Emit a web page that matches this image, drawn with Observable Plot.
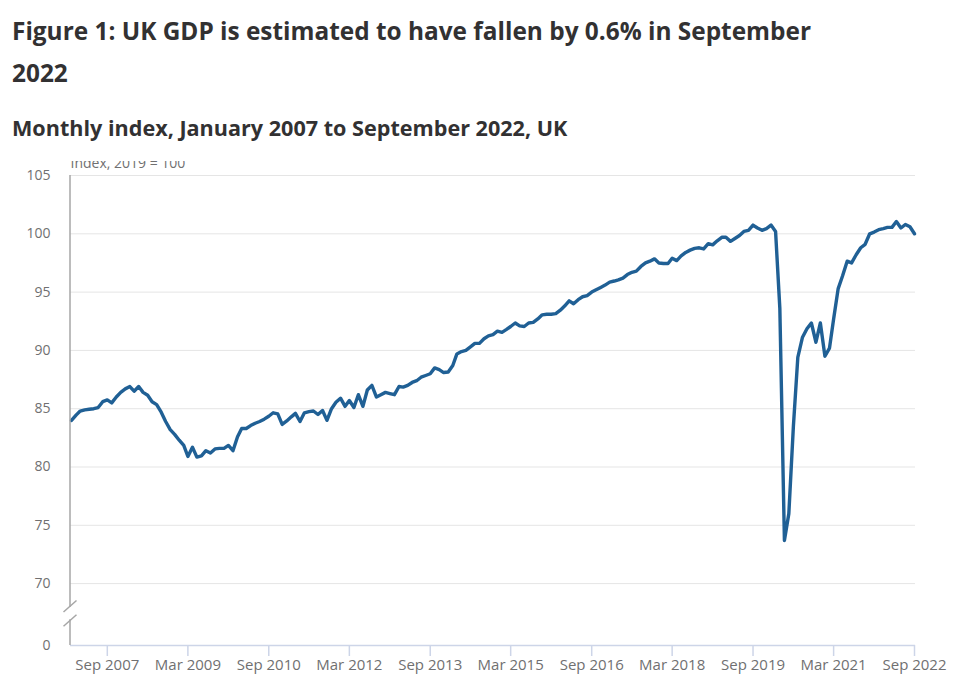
<!DOCTYPE html>
<html>
<head>
<meta charset="utf-8">
<script src="https://cdn.jsdelivr.net/npm/d3@7"></script>
<script src="https://cdn.jsdelivr.net/npm/@observablehq/plot@0.6"></script>
<style>
  html, body { margin: 0; padding: 0; background: #fff; }
  body { width: 960px; height: 691px; position: relative; overflow: hidden; font-family: "Open Sans", sans-serif; color: #323132; }
  #title { position: absolute; left: 12px; top: 10px; width: 840px; margin: 0; font-size: 24.4px; font-weight: 700; line-height: 42px; }
  #subtitle { position: absolute; left: 12px; top: 114px; margin: 0; font-size: 21.6px; font-weight: 700; line-height: 28px; }
  #chart { position: absolute; left: 0; top: 161px; width: 960px; height: 530px; overflow: hidden; }
</style>
</head>
<body>
<h1 id="title">Figure 1: UK GDP is estimated to have fallen by 0.6% in September 2022</h1>
<h2 id="subtitle">Monthly index, January 2007 to September 2022, UK</h2>
<div id="chart"></div>
<script>
// Monthly GDP index (2019 = 100), January 2007 to September 2022
const gdp2007 = [84.0, 84.45, 84.8, 84.9, 84.95, 85.0, 85.1, 85.6, 85.75, 85.5, 86.0, 86.4];
const gdp2008 = [86.7, 86.9, 86.5, 86.9, 86.4, 86.15, 85.6, 85.35, 84.7, 83.9, 83.2, 82.8];
const gdp2009 = [82.3, 81.85, 80.9, 81.7, 80.85, 80.95, 81.4, 81.2, 81.55, 81.6, 81.6, 81.85];
const gdp2010 = [81.4, 82.6, 83.3, 83.3, 83.55, 83.75, 83.9, 84.1, 84.35, 84.65, 84.55, 83.65];
const gdp2011 = [83.95, 84.3, 84.6, 83.9, 84.65, 84.75, 84.8, 84.5, 84.85, 84.0, 85.0, 85.55];
const gdp2012 = [85.9, 85.2, 85.7, 85.1, 86.2, 85.2, 86.6, 87.0, 86.0, 86.2, 86.4, 86.3];
const gdp2013 = [86.2, 86.9, 86.85, 87.0, 87.25, 87.4, 87.7, 87.85, 88.0, 88.5, 88.35, 88.1];
const gdp2014 = [88.15, 88.7, 89.7, 89.9, 90.0, 90.3, 90.6, 90.6, 91.0, 91.25, 91.35, 91.65];
const gdp2015 = [91.55, 91.8, 92.05, 92.35, 92.1, 92.05, 92.35, 92.4, 92.7, 93.05, 93.1, 93.1];
const gdp2016 = [93.15, 93.45, 93.8, 94.25, 94.0, 94.35, 94.6, 94.7, 95.0, 95.2, 95.4, 95.6];
const gdp2017 = [95.85, 95.95, 96.05, 96.2, 96.5, 96.7, 96.8, 97.2, 97.5, 97.65, 97.85, 97.5];
const gdp2018 = [97.45, 97.45, 97.9, 97.7, 98.1, 98.4, 98.6, 98.75, 98.8, 98.7, 99.15, 99.05];
const gdp2019 = [99.4, 99.7, 99.7, 99.35, 99.6, 99.85, 100.2, 100.3, 100.75, 100.5, 100.3, 100.45];
const gdp2020 = [100.75, 100.2, 93.6, 73.7, 76.0, 83.5, 89.4, 91.1, 91.85, 92.35, 90.7, 92.35];
const gdp2021 = [89.5, 90.2, 92.7, 95.3, 96.4, 97.65, 97.5, 98.2, 98.8, 99.1, 100.0, 100.15];
const gdp2022 = [100.35, 100.45, 100.55, 100.55, 101.05, 100.5, 100.8, 100.6, 100.0];

const xTickLabels = ["Sep 2007", "Mar 2009", "Sep 2010", "Mar 2012", "Sep 2013", "Mar 2015",
                     "Sep 2016", "Mar 2018", "Sep 2019", "Mar 2021", "Sep 2022"];
const gridValues = [70, 75, 80, 85, 90, 95, 100, 105];
// the axis is broken below 70: the zero line sits a short gap under 70
const brokenZero = 64.69;
const yAxisTitle = "Index, 2019 = 100";

const values = [].concat(gdp2007, gdp2008, gdp2009, gdp2010, gdp2011, gdp2012, gdp2013,
                         gdp2014, gdp2015, gdp2016, gdp2017, gdp2018, gdp2019, gdp2020, gdp2021, gdp2022);
const start = new Date(Date.UTC(2007, 0, 1));
const data = values.map((v, i) => ({date: d3.utcMonth.offset(start, i), value: v}));
const end = data[data.length - 1].date;
const parseTick = d3.utcParse("%b %Y");
const xTicks = xTickLabels.map(parseTick);

const chart = Plot.plot({
  width: 960,
  height: 530,
  marginLeft: 70,
  marginRight: 45,
  marginTop: 14,
  marginBottom: 46,
  style: {fontFamily: "'Open Sans', sans-serif", fontSize: "14px", color: "#707071", background: "#fff"},
  x: {type: "utc", domain: [start, end], range: [71, 914], ticks: xTicks,
      tickFormat: d3.utcFormat("%b %Y"), tickSize: 11, tickPadding: 3, label: null},
  y: {domain: [brokenZero, 105], ticks: [brokenZero, ...gridValues],
      tickFormat: d => d === brokenZero ? "0" : d3.format("d")(d),
      tickSize: 0, tickPadding: 20, label: null},
  marks: [
    Plot.ruleY(gridValues, {stroke: "#e5e5e5", strokeWidth: 1}),
    Plot.ruleY([brokenZero], {stroke: "#cdd5e8", strokeWidth: 1.5}),
    Plot.line(data, {x: "date", y: "value", stroke: "#206095", strokeWidth: 3.4, strokeLinejoin: "round"}),
    Plot.text([yAxisTitle], {frameAnchor: "top-left", textAnchor: "start", dy: -17, fill: "#707071", fontSize: 14})
  ]
});

// style x-axis ticks light blue, labels a touch larger
const svg = d3.select(chart);
svg.selectAll('[aria-label^="x-axis"] line, [aria-label^="x-axis"] path').attr("stroke", "#cdd5e8").attr("stroke-width", 1.5);
svg.selectAll('[aria-label^="x-axis"] text').attr("font-size", 15);

// y axis line with break, positioned from Plot's own scale
const ys = chart.scale("y");
const yTop = ys.apply(105), yZero = ys.apply(brokenZero), y70 = ys.apply(70);
const brkA = y70 + (yZero - y70) * 0.37;
const brkB = y70 + (yZero - y70) * 0.60;
const ax = 70;
const g = svg.append("g").attr("stroke", "#a6a6a6").attr("stroke-width", 1.5).attr("fill", "none");
g.append("line").attr("x1", ax).attr("x2", ax).attr("y1", yTop).attr("y2", brkA + 1);
g.append("line").attr("x1", ax).attr("x2", ax).attr("y1", brkB - 1).attr("y2", yZero);
g.append("line").attr("x1", ax - 6.5).attr("x2", ax + 6.5).attr("y1", brkA + 6).attr("y2", brkA - 5.5);
g.append("line").attr("x1", ax - 6.5).attr("x2", ax + 6.5).attr("y1", brkB + 6).attr("y2", brkB - 5.5);

document.getElementById("chart").appendChild(chart);
</script>
</body>
</html>
